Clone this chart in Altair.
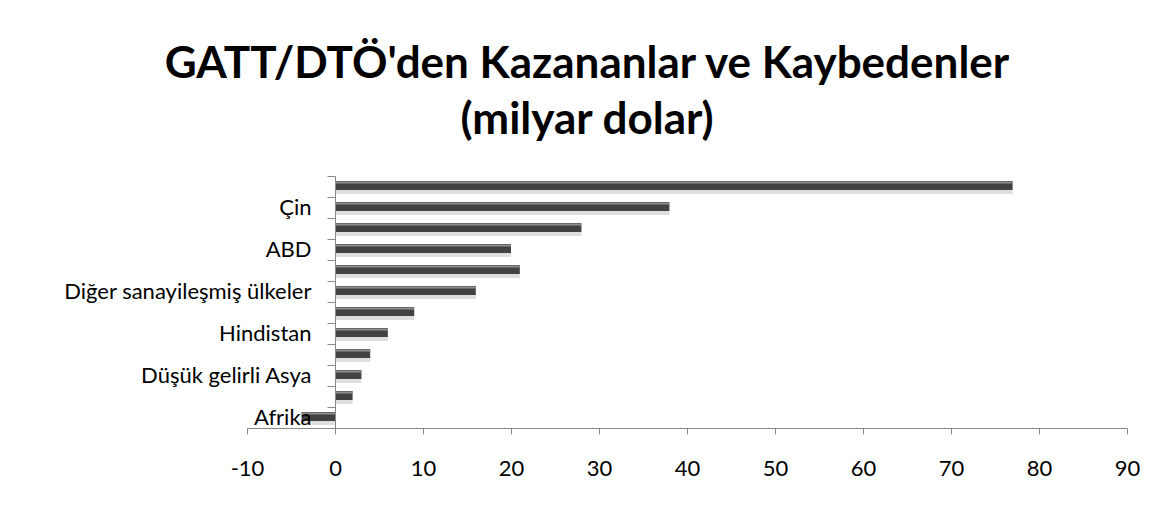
import altair as alt
import pandas as pd

# Data (top to bottom as drawn); only every other category label is shown in the reference
labels = ["", "Çin", "", "ABD", "", "Diğer sanayileşmiş ülkeler", "", "Hindistan",
          "", "Düşük gelirli Asya", "", "Afrika"]
values = [77, 38, 28, 20, 21, 16, 9, 6, 4, 3, 2, -3.8]
order = list(range(len(values)))
x_ticks = [-10, 0, 10, 20, 30, 40, 50, 60, 70, 80, 90]

df = pd.DataFrame({"idx": order, "label": labels, "value": values})

label_expr = "[" + ",".join("'" + l + "'" for l in labels) + "][datum.value]"

FONT = "Lato"

y_enc = alt.Y(
    "idx:O",
    scale=alt.Scale(paddingInner=0, paddingOuter=0),
    axis=alt.Axis(
        title=None,
        labelExpr=label_expr,
        offset=-88,
        tickBand="extent",
        tickSize=8,
        labelPadding=16,
        labelLimit=0,
        domainColor="#888888",
        tickColor="#888888",
        labelFont=FONT,
        labelFontSize=22,
        labelColor="black",
        zindex=1,
    ),
)
x_enc = alt.X(
    "value:Q",
    scale=alt.Scale(domain=[-10, 90], nice=False, zero=True),
    axis=alt.Axis(
        title=None,
        values=x_ticks,
        labelExpr="'' + datum.value",
        grid=False,
        tickSize=6,
        labelPadding=24,
        domainColor="#888888",
        tickColor="#888888",
        labelFont=FONT,
        labelFontSize=22,
        labelColor="black",
        labelFlush=False,
        zindex=1,
    ),
)

base = alt.Chart(df).encode(y=y_enc, x=x_enc)

shadow = base.mark_bar(size=7, yOffset=4, color="#dedede")
main = base.mark_bar(size=9, yOffset=-1, color="#424242")
hl = base.mark_bar(size=2, yOffset=-4, color="#8e8e8e")

chart = alt.layer(shadow, main, hl).properties(
    width=880,
    height=252,
    background="white",
    title=alt.TitleParams(
        text=["GATT/DTÖ'den Kazananlar ve Kaybedenler", "(milyar dolar)"],
        font=FONT,
        fontSize=44,
        fontWeight="bold",
        color="black",
        anchor="middle",
        dx=-100,
        offset=22,
        lineHeight=56,
    ),
    autosize=alt.AutoSizeParams(type="none"),
    padding={"left": 239, "top": 168, "right": 28, "bottom": 72},
).configure_view(strokeWidth=0, stroke=None)

chart.save("out.html", embed_options={"renderer": "svg", "actions": False})
